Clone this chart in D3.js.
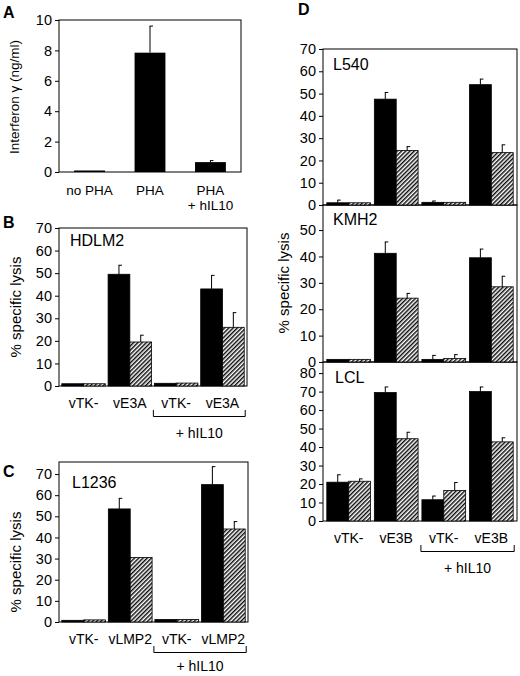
<!DOCTYPE html>
<html>
<head>
<meta charset="utf-8">
<script src="https://cdn.jsdelivr.net/npm/d3@7"></script>
<style>
  body { margin: 0; background: #fff; }
  svg { display: block; }
  text { font-family: "Liberation Sans", Arial, Helvetica, sans-serif; fill: #000; }
</style>
</head>
<body>
<svg id="fig" width="520" height="676"></svg>
<script>
// ---- panel A data: interferon gamma (ng/ml)
var catsA = ["no PHA", "PHA", "PHA|+ hIL10"]
var ifnA = [0.1, 7.85, 0.65]
var ifnErrA = [0, 1.75, 0.1]
var ticksA = [0, 2, 4, 6, 8, 10]

// ---- panel B (HDLM2)
var groupsB = ["vTK-", "vE3A", "vTK-", "vE3A"]
var blackB = [1, 49.5, 1.2, 43]
var blackErrB = [0, 4, 0, 6]
var hatchB = [1, 19.5, 1.3, 26]
var hatchErrB = [0, 3, 0, 6.5]

// ---- panel C (L1236)
var groupsC = ["vTK-", "vLMP2", "vTK-", "vLMP2"]
var blackC = [0.8, 53.5, 1.2, 65]
var blackErrC = [0, 5, 0, 8.5]
var hatchC = [1, 30.5, 1.2, 44]
var hatchErrC = [0, 0, 0, 3.5]

// ---- panel D (L540, KMH2, LCL)
var groupsD = ["vTK-", "vE3B", "vTK-", "vE3B"]
var blackL540 = [1, 47.5, 1.2, 54]
var blackErrL540 = [1.2, 3, 0.6, 2.5]
var hatchL540 = [1, 24.5, 1.2, 23.5]
var hatchErrL540 = [0, 1.7, 0, 3.5]

var blackKMH2 = [1, 41.2, 1, 39.5]
var blackErrKMH2 = [0, 4.3, 1.5, 3.3]
var hatchKMH2 = [1, 24.2, 1.3, 28.5]
var hatchErrKMH2 = [0, 1.8, 1.5, 4]

var blackLCL = [21, 69.5, 11.5, 70]
var blackErrLCL = [4, 3, 2, 2.5]
var hatchLCL = [21.5, 44.5, 16.5, 42.8]
var hatchErrLCL = [1.3, 3.5, 4.3, 2.2]

var svg = d3.select("#fig")

// diagonal hatch for the second bar of each pair
svg.append("defs").append("pattern")
    .attr("id", "hatch")
    .attr("patternUnits", "userSpaceOnUse")
    .attr("width", 3)
    .attr("height", 3)
    .attr("patternTransform", "rotate(45)")
  .call(p => {
    p.append("rect").attr("width", 3).attr("height", 3).attr("fill", "#fff")
    p.append("line").attr("x1", 0.75).attr("x2", 0.75).attr("y1", 0).attr("y2", 3)
        .attr("stroke", "#000").attr("stroke-width", 1.4)
  })

function box(x0, x1, yScale) {
    var r = yScale.range()
    svg.append("rect")
        .attr("x", x0).attr("y", r[1])
        .attr("width", x1 - x0).attr("height", r[0] - r[1])
        .attr("fill", "none").attr("stroke", "#000").attr("stroke-width", 1)
}

function yAxis(x0, yScale, ticks) {
    var g = svg.append("g")
        .attr("transform", `translate(${x0},0)`)
        .call(d3.axisLeft(yScale).tickValues(ticks).tickSize(4).tickSizeOuter(0).tickPadding(3))
    g.select(".domain").remove()
    g.selectAll("text").style("font-size", "14.5px").attr("fill", "#000")
    g.selectAll("line").attr("stroke", "#000")
}

function errorBars(data, xf, w, yScale) {
    var g = svg.append("g").attr("stroke", "#000").attr("stroke-width", 1)
    data.forEach((d, i) => {
        if (!d.err) return
        var cx = xf(i) + w / 2
        g.append("line").attr("x1", cx).attr("x2", cx)
            .attr("y1", yScale(d.v)).attr("y2", yScale(d.v + d.err))
        g.append("line").attr("x1", cx - 0.5).attr("x2", cx + 3)
            .attr("y1", yScale(d.v + d.err)).attr("y2", yScale(d.v + d.err))
    })
}

// paired black / hatched bars for each group
function pairedBars(x0, x1, yScale, groups, black, blackErr, hatch, hatchErr, pad) {
    var xG = d3.scaleBand().domain(d3.range(groups.length)).range([x0, x1])
        .paddingInner(pad).paddingOuter(pad)
    var xS = d3.scaleBand().domain(["black", "hatch"]).range([0, xG.bandwidth()])
    var w = xS.bandwidth()
    var series = [
        { key: "black", fill: "#000", vals: black, errs: blackErr },
        { key: "hatch", fill: "url(#hatch)", vals: hatch, errs: hatchErr }
    ]
    series.forEach(s => {
        var data = s.vals.map((v, i) => ({ v: v, err: s.errs[i] }))
        var xf = i => xG(i) + xS(s.key)
        svg.append("g").selectAll("rect")
            .data(data)
            .enter()
            .append("rect")
            .attr("x", (d, i) => xf(i))
            .attr("y", d => yScale(d.v))
            .attr("width", w)
            .attr("height", d => yScale(0) - yScale(d.v))
            .attr("fill", s.fill)
            .attr("stroke", "#000")
            .attr("stroke-width", 0.8)
        errorBars(data, xf, w, yScale)
    })
    return xG
}

function groupLabels(xG, groups, y0) {
    svg.append("g").selectAll("text")
        .data(groups)
        .enter()
        .append("text")
        .attr("x", (d, i) => xG(i) + xG.bandwidth() / 2)
        .attr("y", y0 + 21.5)
        .attr("text-anchor", "middle")
        .style("font-size", "14px")
        .text(d => d)
    // bracket under the last two groups
    var bx0 = xG(2) - 1, bx1 = xG(3) + xG.bandwidth() + 1
    svg.append("path")
        .attr("d", `M${bx0},${y0 + 24}V${y0 + 30.5}H${bx1}V${y0 + 24}`)
        .attr("fill", "none").attr("stroke", "#000").attr("stroke-width", 1)
    svg.append("text")
        .attr("x", (bx0 + bx1) / 2)
        .attr("y", Math.min(y0 + 52, 671))
        .attr("text-anchor", "middle")
        .style("font-size", "14px")
        .text("+ hIL10")
}

function yTitle(x, y, txt, size) {
    svg.append("text")
        .attr("transform", `translate(${x},${y}) rotate(-90)`)
        .attr("text-anchor", "middle")
        .attr("dominant-baseline", "central")
        .style("font-size", size)
        .text(txt)
}

function label(x, y, txt, size, bold) {
    svg.append("text")
        .attr("x", x).attr("y", y)
        .style("font-size", size)
        .style("font-weight", bold ? "bold" : "normal")
        .text(txt)
}

// ---------- Panel A
var yA = d3.scaleLinear().domain([0, 10]).range([172, 20])
var xA = d3.scaleBand().domain(catsA).range([59, 241]).paddingInner(0.49).paddingOuter(0.25)
box(59, 241, yA)
yAxis(59, yA, ticksA)
var dataA = ifnA.map((v, i) => ({ v: v, err: ifnErrA[i] }))
svg.append("g").selectAll("rect")
    .data(dataA)
    .enter()
    .append("rect")
    .attr("x", (d, i) => xA(catsA[i]))
    .attr("y", d => yA(d.v))
    .attr("width", xA.bandwidth())
    .attr("height", d => yA(0) - yA(d.v))
    .attr("fill", "#000")
errorBars(dataA, i => xA(catsA[i]), xA.bandwidth(), yA)
catsA.forEach(c => {
    c.split("|").forEach((line, j) => {
        svg.append("text")
            .attr("x", xA(c) + xA.bandwidth() / 2)
            .attr("y", 195 + j * 15)
            .attr("text-anchor", "middle")
            .style("font-size", "13.5px")
            .text(line)
    })
})
yTitle(14, 97, "Interferon \u03b3 (ng/ml)", "13.5px")
label(3, 18, "A", "16px", true)

// ---------- Panel B
var yB = d3.scaleLinear().domain([0, 70]).range([386, 228])
box(59, 247, yB)
yAxis(59, yB, d3.range(0, 71, 10))
var xB = pairedBars(59, 247, yB, groupsB, blackB, blackErrB, hatchB, hatchErrB, 0.06)
groupLabels(xB, groupsB, 386)
yTitle(15, 307, "% specific lysis", "15px")
label(3, 228, "B", "16px", true)
label(70, 246, "HDLM2", "16px")

// ---------- Panel C
var yC = d3.scaleLinear().domain([0, 75.7]).range([622, 462])
box(59, 248, yC)
yAxis(59, yC, d3.range(0, 71, 10))
var xC = pairedBars(59, 248, yC, groupsC, blackC, blackErrC, hatchC, hatchErrC, 0.06)
groupLabels(xC, groupsC, 622)
yTitle(15, 562, "% specific lysis", "15px")
label(3, 477, "C", "16px", true)
label(72, 488, "L1236", "16px")

// ---------- Panel D
var dx0 = 323, dx1 = 517
var yL540 = d3.scaleLinear().domain([0, 70]).range([205, 49])
var yKMH2 = d3.scaleLinear().domain([0, 59.5]).range([362, 205])
var yLCL = d3.scaleLinear().domain([0, 86]).range([521, 362])
box(dx0, dx1, yL540)
box(dx0, dx1, yKMH2)
box(dx0, dx1, yLCL)
yAxis(dx0, yL540, d3.range(0, 71, 10))
yAxis(dx0, yKMH2, d3.range(0, 51, 10))
yAxis(dx0, yLCL, d3.range(0, 81, 10))
pairedBars(dx0, dx1, yL540, groupsD, blackL540, blackErrL540, hatchL540, hatchErrL540, 0.08)
pairedBars(dx0, dx1, yKMH2, groupsD, blackKMH2, blackErrKMH2, hatchKMH2, hatchErrKMH2, 0.08)
var xD = pairedBars(dx0, dx1, yLCL, groupsD, blackLCL, blackErrLCL, hatchLCL, hatchErrLCL, 0.08)
groupLabels(xD, groupsD, 521)
yTitle(283, 283, "% specific lysis", "15px")
label(298, 15, "D", "16px", true)
label(333, 70, "L540", "16px")
label(333, 225, "KMH2", "16px")
label(335, 383, "LCL", "16px")
</script>
</body>
</html>
